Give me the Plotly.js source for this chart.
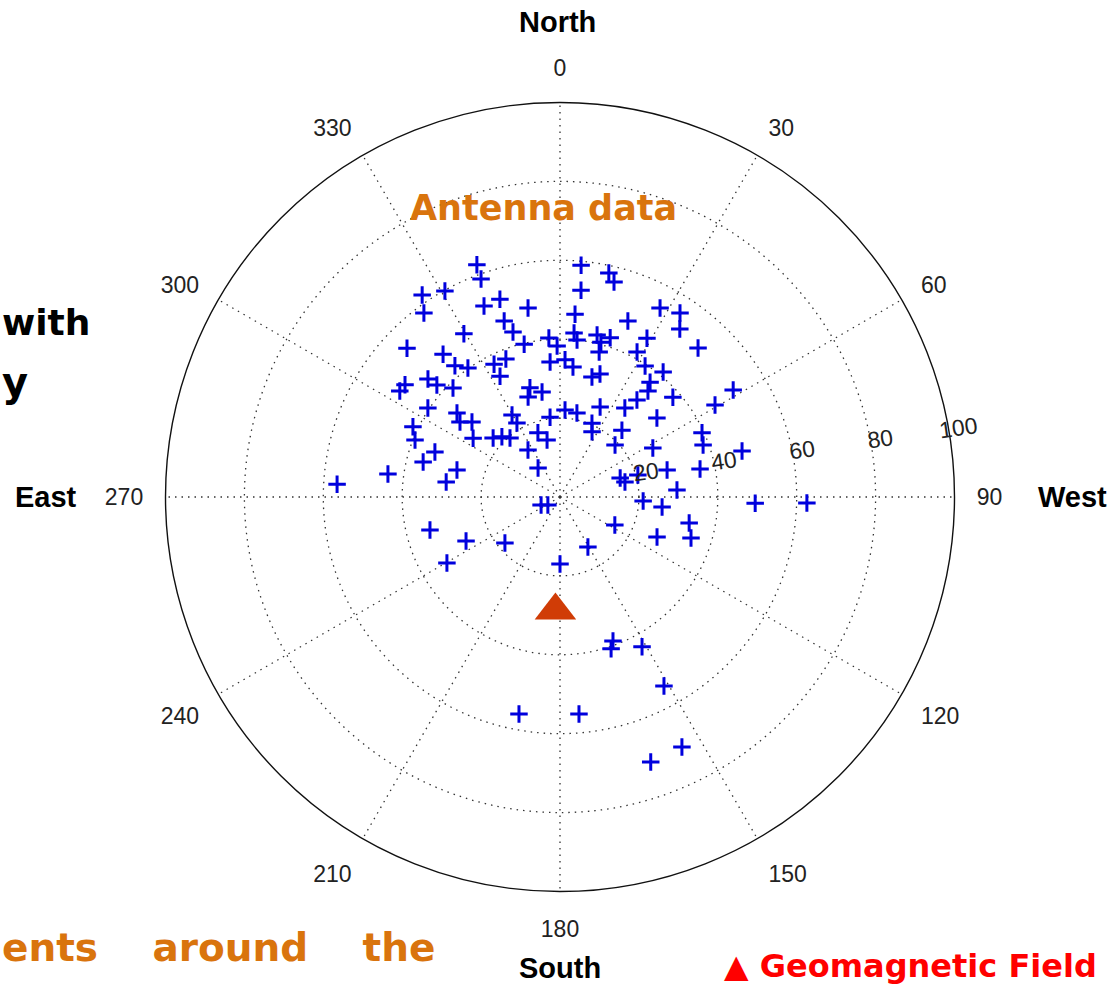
<!DOCTYPE html>
<html>
<head>
<meta charset="utf-8">
<script src="https://cdn.plot.ly/plotly-3.0.1.min.js"></script>
<style>
  html, body { margin: 0; padding: 0; background: #ffffff; }
  #chart { width: 1112px; height: 985px; }
</style>
</head>
<body>
<div id="chart"></div>
<script>
// Antenna data (compass azimuth in degrees, clockwise from North; radial value)
const antennaTheta = [340.3, 340.1, 5.2, 12.3, 14.1, 5.8, 325.7, 330.8, 323.5, 338.3,
  343.1, 350.4, 342.4, 344.1, 329.5, 346.8, 4.7, 21.1, 27.9, 33.1,
  35.5, 42.8, 314.2, 320.7, 321.3, 324.5, 333.6, 338.6, 333.6, 356.0,
  358.9, 355.8, 2.1, 5.7, 4.9, 6.2, 12.9, 14.8, 17.5, 15.1,
  28.7, 28.0, 33.0, 39.5, 18.0, 305.9, 303.5, 311.8, 312.3, 315.5,
  344.6, 350.3, 342.3, 3.3, 11.4, 304.0, 309.2, 306.9, 310.4, 329.7,
  329.8, 352.9, 295.5, 291.5, 304.1, 311.4, 316.0, 319.7, 341.0, 347.2,
  325.7, 289.8, 284.3, 284.7, 277.5, 277.6, 273.3, 322.8, 247.2, 236.3,
  14.9, 38.1, 39.7, 58.3, 59.3, 48.5, 38.4, 36.1, 24.0, 23.4,
  26.2, 50.8, 42.8, 65.7, 70.0, 46.6, 62.2, 75.8, 72.4, 77.0,
  74.3, 75.8, 78.7, 86.6, 92.8, 95.6, 91.8, 91.4, 255.8, 244.9,
  230.1, 239.7, 180.0, 150.8, 117.0, 112.4, 101.4, 107.4, 159.8, 161.4,
  151.3, 151.2, 190.7, 175.0, 154.0, 161.1];

const antennaR = [62.5, 58.8, 59.0, 58.1, 56.2, 52.7, 62.0, 59.8, 58.0, 52.1,
  52.4, 48.6, 46.8, 43.5, 48.0, 39.8, 46.5, 47.8, 54.2, 55.7,
  52.3, 51.5, 54.1, 46.8, 42.6, 40.2, 37.6, 37.6, 34.2, 40.4,
  38.3, 34.3, 34.8, 33.1, 41.7, 40.0, 42.1, 40.6, 42.3, 38.1,
  45.9, 41.6, 39.6, 41.1, 32.8, 48.5, 48.7, 44.9, 42.2, 38.7,
  28.7, 27.0, 26.6, 22.1, 21.7, 40.4, 33.7, 31.7, 29.3, 24.1,
  21.7, 20.4, 41.3, 39.5, 26.6, 22.6, 21.2, 19.6, 17.2, 14.8,
  14.4, 33.7, 35.8, 27.0, 29.1, 44.0, 56.6, 9.2, 5.2, 3.7,
  31.5, 37.0, 34.9, 51.6, 45.7, 38.2, 31.4, 27.9, 25.0, 20.4,
  18.4, 31.7, 23.1, 39.5, 38.6, 19.2, 26.6, 47.6, 16.0, 16.9,
  20.5, 28.0, 36.2, 29.7, 21.1, 26.0, 49.5, 62.6, 34.0, 26.3,
  18.2, 33.2, 17.0, 14.5, 15.6, 26.6, 33.4, 34.8, 38.9, 40.6,
  43.3, 54.7, 56.0, 55.2, 70.5, 71.0];

// Geomagnetic field direction
const fieldTheta = [182.3];
const fieldR = [28.8];

// Axis ticks
const angularTicks = [0, 30, 60, 90, 120, 150, 180, 210, 240, 270, 300, 330];
const angularTickText = ['0', '30', '60', '90', '120', '150', '180', '210', '240', '270', '300', '330'];
const radialTicks = [20, 40, 60, 80, 100];
const radialTickText = ['20', '40', '60', '80', '100'];

// Text labels
const compassLabels = ['North', 'South', 'East', 'West'];
const antennaLabel = 'Antenna data';
const slideTexts = ['with', 'y', 'ents\u00a0\u00a0\u00a0\u00a0around\u00a0\u00a0\u00a0\u00a0the', '\u25B2 Geomagnetic Field'];

const W = 1112, H = 985;
const px = v => v / W;
const py = v => 1 - v / H;

const traces = [
  {
    type: 'scatterpolar',
    mode: 'markers',
    theta: antennaTheta,
    r: antennaR,
    marker: { symbol: 'cross-thin', size: 12.5, color: '#0000dd', line: { color: '#0000dd', width: 3 } },
    hoverinfo: 'skip'
  },
  {
    type: 'scatterpolar',
    mode: 'markers',
    theta: fieldTheta,
    r: fieldR,
    marker: { symbol: 'triangle-up', size: 36, color: '#d03c06', line: { width: 0 } },
    hoverinfo: 'skip'
  }
];

const pad = '\u00a0\u00a0\u00a0';
const gridDash = '1.5px,5px';
const tickFont = { family: 'Liberation Sans, Arial, sans-serif', size: 23, color: '#222' };
const boldFont = { family: 'Liberation Sans, Arial, sans-serif', size: 29, color: '#000', weight: 'bold' };
const slideFont = (c, s) => ({ family: 'Comic Sans MS, DejaVu Sans, sans-serif', size: s, color: c, weight: 'bold' });

const layout = {
  width: W, height: H,
  margin: { l: 0, r: 0, t: 0, b: 0 },
  paper_bgcolor: '#ffffff',
  showlegend: false,
  polar: {
    domain: { x: [165.5 / W, 954.5 / W], y: [93.5 / H, 882.5 / H] },
    bgcolor: '#ffffff',
    angularaxis: {
      rotation: 90,
      direction: 'clockwise',
      tickmode: 'array',
      tickvals: angularTicks,
      ticktext: angularTickText,
      showline: true,
      linecolor: '#111',
      linewidth: 1.4,
      showgrid: true,
      gridcolor: '#333',
      gridwidth: 1.3,
      griddash: gridDash,
      ticks: 'outside',
      ticklen: 17,
      tickcolor: 'rgba(0,0,0,0)',
      tickfont: tickFont
    },
    radialaxis: {
      range: [0, 100],
      tickmode: 'array',
      tickvals: radialTicks,
      ticktext: radialTickText.map(t => pad + t),
      angle: 8,
      side: 'counterclockwise',
      showline: false,
      ticks: '',
      showgrid: true,
      gridcolor: '#333',
      gridwidth: 1.3,
      griddash: gridDash,
      tickfont: tickFont
    }
  },
  annotations: [
    { text: compassLabels[0], x: px(557), y: py(22), xref: 'paper', yref: 'paper', showarrow: false, xanchor: 'center', yanchor: 'middle', font: boldFont },
    { text: compassLabels[1], x: px(560), y: py(968), xref: 'paper', yref: 'paper', showarrow: false, xanchor: 'center', yanchor: 'middle', font: boldFont },
    { text: compassLabels[2], x: px(45.5), y: py(497), xref: 'paper', yref: 'paper', showarrow: false, xanchor: 'center', yanchor: 'middle', font: boldFont },
    { text: compassLabels[3], x: px(1072.5), y: py(497), xref: 'paper', yref: 'paper', showarrow: false, xanchor: 'center', yanchor: 'middle', font: boldFont },
    { text: antennaLabel, x: px(543), y: py(208), xref: 'paper', yref: 'paper', showarrow: false, xanchor: 'center', yanchor: 'middle', font: slideFont('#d9740d', 35) },
    { text: slideTexts[0], x: px(0), y: py(322), xref: 'paper', yref: 'paper', showarrow: false, xanchor: 'left', yanchor: 'middle', font: slideFont('#000', 36) },
    { text: slideTexts[1], x: px(0), y: py(382), xref: 'paper', yref: 'paper', showarrow: false, xanchor: 'left', yanchor: 'middle', font: slideFont('#000', 40) },
    { text: slideTexts[2], x: px(0), y: py(947), xref: 'paper', yref: 'paper', showarrow: false, xanchor: 'left', yanchor: 'middle', font: slideFont('#d9740d', 39) },
    { text: slideTexts[3], x: px(722), y: py(966), xref: 'paper', yref: 'paper', showarrow: false, xanchor: 'left', yanchor: 'middle', font: slideFont('#ff0000', 32) }
  ]
};

Plotly.newPlot('chart', traces, layout, { staticPlot: true, displayModeBar: false });
</script>
</body>
</html>
